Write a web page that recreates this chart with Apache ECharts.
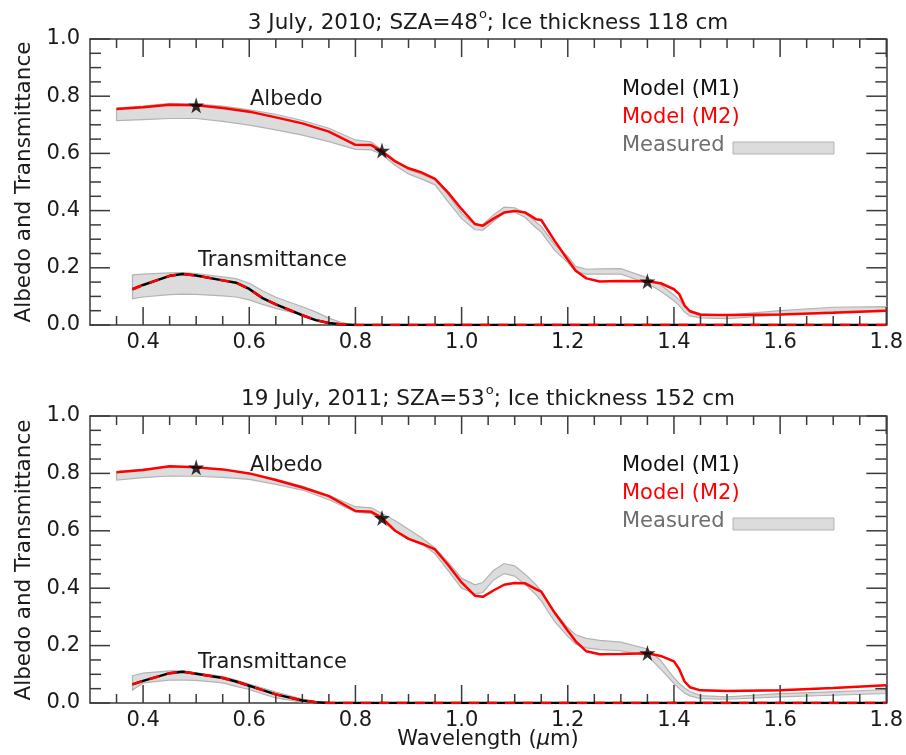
<!DOCTYPE html>
<html>
<head>
<meta charset="utf-8">
<script src="https://cdn.jsdelivr.net/npm/echarts/dist/echarts.min.js"></script>
<style>html,body{margin:0;padding:0;background:#fff}#c{width:906px;height:755px}#err{position:absolute;left:640px;top:180px;width:250px;font:10px monospace;color:#00f}</style>
</head>
<body>
<div id="c"></div>
<div id="err"></div>
<script>
window.onerror = function (m) { document.getElementById('err').textContent += ' ERR: ' + m; };
// ---------- DATA ----------
var panelTitles = [['3 July, 2010; SZA=48', '; Ice thickness 118 cm'], ['19 July, 2011; SZA=53', '; Ice thickness 152 cm']];
var xTickValues = [0.4, 0.6, 0.8, 1.0, 1.2, 1.4, 1.6, 1.8];
var xMinorTicks = [0.35, 0.45, 0.5, 0.55, 0.65, 0.7, 0.75, 0.85, 0.9, 0.95, 1.05, 1.1, 1.15, 1.25, 1.3, 1.35, 1.45, 1.5, 1.55, 1.65, 1.7, 1.75];
var yTickValues = [0.0, 0.2, 0.4, 0.6, 0.8, 1.0];
var yMinorTicks = [0.05, 0.1, 0.15, 0.25, 0.3, 0.35, 0.45, 0.5, 0.55, 0.65, 0.7, 0.75, 0.85, 0.9, 0.95];

// albedo wavelengths (micron)
var wlAlb = [0.35, 0.40, 0.45, 0.50, 0.55, 0.60, 0.65, 0.70, 0.75, 0.80, 0.83, 0.85, 0.875, 0.90, 0.925, 0.95, 0.975, 1.00, 1.025, 1.04, 1.06, 1.08, 1.10, 1.12, 1.14, 1.15, 1.175, 1.20, 1.215, 1.235, 1.26, 1.30, 1.35, 1.375, 1.40, 1.41, 1.42, 1.43, 1.45, 1.50, 1.60, 1.70, 1.80];

// Panel 1 (2010)
var albM2_2010 = [0.755, 0.761, 0.770, 0.768, 0.759, 0.746, 0.726, 0.705, 0.676, 0.630, 0.629, 0.607, 0.572, 0.548, 0.533, 0.511, 0.462, 0.405, 0.353, 0.347, 0.372, 0.393, 0.399, 0.393, 0.370, 0.367, 0.295, 0.228, 0.190, 0.163, 0.152, 0.154, 0.153, 0.146, 0.125, 0.108, 0.068, 0.048, 0.036, 0.035, 0.037, 0.043, 0.050];
var albMeasHi_2010 = [0.758, 0.765, 0.775, 0.772, 0.765, 0.752, 0.737, 0.715, 0.688, 0.647, 0.640, 0.612, 0.575, 0.543, 0.527, 0.507, 0.455, 0.390, 0.350, 0.352, 0.385, 0.412, 0.410, 0.392, 0.360, 0.345, 0.282, 0.240, 0.205, 0.195, 0.196, 0.197, 0.165, 0.140, 0.105, 0.088, 0.065, 0.050, 0.040, 0.035, 0.050, 0.062, 0.064];
var albMeasLo_2010 = [0.715, 0.718, 0.722, 0.722, 0.712, 0.699, 0.682, 0.664, 0.641, 0.614, 0.612, 0.596, 0.558, 0.528, 0.510, 0.490, 0.430, 0.372, 0.333, 0.332, 0.362, 0.392, 0.394, 0.376, 0.340, 0.325, 0.262, 0.218, 0.186, 0.178, 0.178, 0.178, 0.146, 0.118, 0.085, 0.068, 0.045, 0.032, 0.025, 0.022, 0.035, 0.047, 0.050];

// Panel 2 (2011)
var albM2_2011 = [0.804, 0.812, 0.825, 0.821, 0.814, 0.800, 0.777, 0.751, 0.721, 0.669, 0.666, 0.645, 0.600, 0.572, 0.555, 0.535, 0.480, 0.420, 0.374, 0.370, 0.392, 0.412, 0.418, 0.417, 0.397, 0.388, 0.315, 0.252, 0.215, 0.180, 0.170, 0.171, 0.173, 0.164, 0.145, 0.118, 0.075, 0.055, 0.044, 0.042, 0.044, 0.052, 0.062];
var albMeasHi_2011 = [0.806, 0.815, 0.822, 0.820, 0.814, 0.800, 0.780, 0.756, 0.724, 0.684, 0.680, 0.660, 0.635, 0.605, 0.575, 0.540, 0.490, 0.435, 0.412, 0.420, 0.462, 0.486, 0.478, 0.448, 0.412, 0.390, 0.318, 0.262, 0.238, 0.225, 0.218, 0.212, 0.188, 0.148, 0.088, 0.068, 0.052, 0.040, 0.026, 0.021, 0.033, 0.039, 0.047];
var albMeasLo_2011 = [0.777, 0.785, 0.791, 0.790, 0.786, 0.779, 0.762, 0.742, 0.708, 0.666, 0.660, 0.632, 0.600, 0.575, 0.555, 0.520, 0.460, 0.400, 0.380, 0.385, 0.428, 0.451, 0.442, 0.412, 0.378, 0.356, 0.284, 0.232, 0.205, 0.192, 0.186, 0.182, 0.165, 0.118, 0.068, 0.050, 0.035, 0.025, 0.015, 0.013, 0.021, 0.027, 0.033];

// transmittance wavelengths
var wlTrans = [0.38, 0.40, 0.45, 0.475, 0.50, 0.55, 0.575, 0.60, 0.625, 0.65, 0.70, 0.725, 0.75, 0.775, 0.80, 1.80];
var wlTransMeas = [0.38, 0.40, 0.45, 0.475, 0.50, 0.55, 0.575, 0.60, 0.625, 0.65, 0.70, 0.725, 0.75, 0.775, 0.80];

var trM1_2010 = [0.125, 0.140, 0.172, 0.178, 0.173, 0.156, 0.148, 0.126, 0.094, 0.072, 0.034, 0.017, 0.007, 0.002, 0.0, 0.0];
var trM2_2010 = [0.125, 0.140, 0.172, 0.178, 0.173, 0.156, 0.148, 0.126, 0.094, 0.072, 0.034, 0.017, 0.007, 0.002, 0.0, 0.0];
var trMeasHi_2010 = [0.175, 0.178, 0.182, 0.183, 0.180, 0.168, 0.162, 0.146, 0.120, 0.097, 0.064, 0.046, 0.024, 0.008, 0.0];
var trMeasLo_2010 = [0.092, 0.098, 0.106, 0.108, 0.107, 0.102, 0.098, 0.088, 0.072, 0.058, 0.035, 0.020, 0.007, 0.0, 0.0];

var trM1_2011 = [0.065, 0.077, 0.104, 0.109, 0.102, 0.087, 0.075, 0.060, 0.045, 0.030, 0.009, 0.003, 0.0, 0.0, 0.0, 0.0];
var trM2_2011 = [0.065, 0.077, 0.104, 0.109, 0.102, 0.087, 0.075, 0.060, 0.045, 0.030, 0.009, 0.003, 0.0, 0.0, 0.0, 0.0];
var trMeasHi_2011 = [0.095, 0.104, 0.112, 0.112, 0.105, 0.093, 0.080, 0.066, 0.052, 0.038, 0.014, 0.006, 0.001, 0.0, 0.0];
var trMeasLo_2011 = [0.045, 0.070, 0.080, 0.080, 0.079, 0.070, 0.058, 0.047, 0.032, 0.018, 0.003, 0.0, 0.0, 0.0, 0.0];

// Model M1 albedo at three wavelengths (stars)
var starWl = [0.50, 0.85, 1.35];
var starM1_2010 = [0.768, 0.610, 0.153];
var starM1_2011 = [0.821, 0.645, 0.174];

// ---------- CHART ----------
var FONT = 'DejaVu Sans';
var AX = '#3a3a3a';
var X_MIN = 0.3, X_MAX = 1.8, Y_MIN = 0, Y_MAX = 1;
var panels = [
  {top: 39, height: 286, albM2: albM2_2010, hi: albMeasHi_2010, lo: albMeasLo_2010, trM1: trM1_2010, trM2: trM2_2010, thi: trMeasHi_2010, tlo: trMeasLo_2010, star: starM1_2010},
  {top: 416, height: 287, albM2: albM2_2011, hi: albMeasHi_2011, lo: albMeasLo_2011, trM1: trM1_2011, trM2: trM2_2011, thi: trMeasHi_2011, tlo: trMeasLo_2011, star: starM1_2011}
];
function pairs(xs, ys) { return ys.map(function (y, i) { return [xs[i], y]; }); }
function triples(xs, lo, hi) { return lo.map(function (v, i) { return [xs[i], v, hi[i]]; }); }
function fmt(v) { return v.toFixed(1); }
function axStyle() { return {color: AX, width: 1.5}; }

function bandSeries(xi, yi, data) {
  return {
    type: 'custom', xAxisIndex: xi, yAxisIndex: yi, data: data, z: 2, silent: true, animation: false,
    encode: {x: 0, y: [1, 2]},
    renderItem: function (params, api) {
      if (params.dataIndex !== 0) return null;
      var upper = [], lower = [];
      for (var i = 0; i < data.length; i++) {
        upper.push(api.coord([data[i][0], data[i][2]]));
        lower.push(api.coord([data[i][0], data[i][1]]));
      }
      var pts = upper.concat(lower.reverse());
      return {type: 'polygon', shape: {points: pts}, style: {fill: '#dcdcdc', stroke: '#b3b3b3', lineWidth: 1.2}};
    }
  };
}

var grids = [], xAxes = [], yAxes = [], series = [], graphics = [];
var STAR = 'path://M50,0 L61,35 L98,35 L68,57 L79,91 L50,70 L21,91 L32,57 L2,35 L39,35 Z';

panels.forEach(function (p, k) {
  grids.push({left: 90, top: p.top, width: 797, height: p.height});
  ['bottom', 'top'].forEach(function (pos) {
    xAxes.push({type: 'value', gridIndex: k, min: X_MIN, max: X_MAX, position: pos, splitLine: {show: false},
      axisLine: {show: true, onZero: false, lineStyle: axStyle()},
      axisTick: {show: false},
      axisLabel: pos === 'bottom' ? {show: true, customValues: xTickValues.slice(), formatter: fmt, fontFamily: FONT, fontSize: 21, color: '#1a1a1a', margin: 7} : {show: false}
    });
  });
  ['left', 'right'].forEach(function (pos) {
    yAxes.push({type: 'value', gridIndex: k, min: Y_MIN, max: Y_MAX, interval: 0.2, position: pos, splitLine: {show: false},
      axisLine: {show: true, onZero: false, lineStyle: axStyle()},
      axisTick: {show: false},
      axisLabel: pos === 'left' ? {show: true, formatter: fmt, fontFamily: FONT, fontSize: 21, color: '#1a1a1a', margin: 10} : {show: false}
    });
  });

  var xi = 2 * k, yi = 2 * k;
  series.push(bandSeries(xi, yi, triples(wlAlb, p.lo, p.hi)));
  series.push(bandSeries(xi, yi, triples(wlTransMeas, p.tlo, p.thi)));
  series.push({type: 'line', xAxisIndex: xi, yAxisIndex: yi, data: pairs(wlTrans, p.trM1), showSymbol: false, symbol: 'none', lineStyle: {color: '#000', width: 2.5}, z: 4, animation: false});
  series.push({type: 'line', xAxisIndex: xi, yAxisIndex: yi, data: pairs(wlTrans, p.trM2), showSymbol: false, symbol: 'none', lineStyle: {color: '#ff0000', width: 2.5, type: [10, 8]}, z: 5, animation: false});
  series.push({type: 'line', xAxisIndex: xi, yAxisIndex: yi, data: pairs(wlAlb, p.albM2), showSymbol: false, symbol: 'none', lineStyle: {color: '#ff0000', width: 2.5}, z: 5, animation: false});
  series.push({type: 'scatter', xAxisIndex: xi, yAxisIndex: yi, data: pairs(starWl, p.star), symbol: STAR, symbolSize: 16, itemStyle: {color: '#000'}, z: 6, animation: false});

  var t = panelTitles[k];
  var tc = k === 0 ? 21 : 397;
  graphics.push({type: 'text', x: 488, y: tc, style: {text: '{m|' + t[0] + '}{s|o}{m|' + t[1] + '}', align: 'center', verticalAlign: 'middle',
    rich: {m: {fontFamily: FONT, fontSize: 21.5, fill: '#1a1a1a', lineHeight: 26, verticalAlign: 'bottom'}, s: {fontFamily: FONT, fontSize: 13, fill: '#1a1a1a', lineHeight: 26, verticalAlign: 'top', padding: [0, 0, 10, 1]}}}});
  var yc = k === 0 ? 182 : 560;
  graphics.push({type: 'text', x: 24, y: yc, rotation: Math.PI / 2, style: {text: 'Albedo and Transmittance', fontFamily: FONT, fontSize: 21.5, fill: '#1a1a1a', align: 'center', verticalAlign: 'middle'}});
  var ly = k === 0 ? 90 : 466;
  graphics.push({type: 'text', x: 622, y: ly, style: {text: 'Model (M1)', fontFamily: FONT, fontSize: 21, fill: '#111', verticalAlign: 'middle'}});
  graphics.push({type: 'text', x: 622, y: ly + 28, style: {text: 'Model (M2)', fontFamily: FONT, fontSize: 21, fill: '#ff0000', verticalAlign: 'middle'}});
  graphics.push({type: 'text', x: 622, y: ly + 56, style: {text: 'Measured', fontFamily: FONT, fontSize: 21, fill: '#6e6e6e', verticalAlign: 'middle'}});
  graphics.push({type: 'rect', shape: {x: 733, y: ly + 52, width: 101, height: 12}, style: {fill: '#dcdcdc', stroke: '#b4b4b4', lineWidth: 1}});
  var ay = k === 0 ? 100 : 466;
  graphics.push({type: 'text', x: 250, y: ay, style: {text: 'Albedo', fontFamily: FONT, fontSize: 21, fill: '#1a1a1a', verticalAlign: 'middle'}});
  var ty = k === 0 ? 261 : 663;
  graphics.push({type: 'text', x: 198, y: ty, style: {text: 'Transmittance', fontFamily: FONT, fontSize: 21, fill: '#1a1a1a', verticalAlign: 'middle'}});
});

graphics.push({type: 'text', x: 488, y: 740, style: {text: 'Wavelength ({i|μ}m)', align: 'center', verticalAlign: 'middle', fontFamily: FONT, fontSize: 21, fill: '#1a1a1a',
  rich: {i: {fontFamily: FONT, fontSize: 21, fontStyle: 'italic', fill: '#1a1a1a'}}}});

var chart = echarts.init(document.getElementById('c'));
chart.setOption({
  animation: false,
  grid: grids,
  xAxis: xAxes,
  yAxis: yAxes,
  series: series
});

// inward ticks on all four sides, positioned through the grid's own scales
var MAJ_X = 18, MIN_X = 9, MAJ_Y = 20, MIN_Y = 11, HW = 1.5;
function addTicks(k) {
  function px(x, y) { return chart.convertToPixel({gridIndex: k}, [x, y]); }
  function xt(v, len) {
    var b = px(v, Y_MIN), t = px(v, Y_MAX);
    graphics.push({type: 'rect', z: 3, silent: true, shape: {x: b[0] - HW / 2, y: b[1] - len, width: HW, height: len}, style: {fill: AX}});
    graphics.push({type: 'rect', z: 3, silent: true, shape: {x: t[0] - HW / 2, y: t[1], width: HW, height: len}, style: {fill: AX}});
  }
  function yt(v, len) {
    var l = px(X_MIN, v), r = px(X_MAX, v);
    graphics.push({type: 'rect', z: 3, silent: true, shape: {x: l[0], y: l[1] - HW / 2, width: len, height: HW}, style: {fill: AX}});
    graphics.push({type: 'rect', z: 3, silent: true, shape: {x: r[0] - len, y: r[1] - HW / 2, width: len, height: HW}, style: {fill: AX}});
  }
  xTickValues.forEach(function (v) { xt(v, MAJ_X); });
  xMinorTicks.forEach(function (v) { xt(v, MIN_X); });
  yTickValues.forEach(function (v) { yt(v, MAJ_Y); });
  yMinorTicks.forEach(function (v) { yt(v, MIN_Y); });
}
try {
  addTicks(0);
  addTicks(1);
} catch (e) {
  document.getElementById('err').textContent += ' TICKERR: ' + e.message;
}
chart.setOption({graphic: graphics});
</script>
</body>
</html>
